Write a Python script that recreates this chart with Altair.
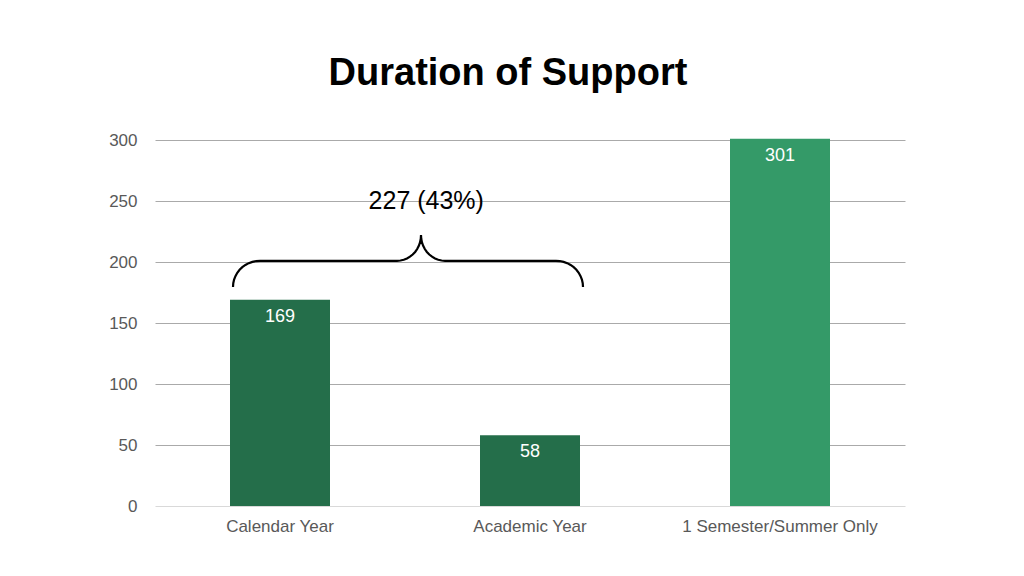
import altair as alt
import pandas as pd
import numpy as np

categories = ["Calendar Year", "Academic Year", "1 Semester/Summer Only"]
counts = [169, 58, 301]
bar_colors = ["#246E4A", "#246E4A", "#349A68"]

brace_label = "227 (43%)"
# brace geometry in data units (x: category-index space 0..3, y: count units)
brace_left, brace_right, brace_tip_x = 0.312, 1.712, 1.064
brace_base_y, brace_end_y, brace_tip_y = 201.0, 179.5, 222.0
label_x, label_y = 1.085, 250

df = pd.DataFrame({"cat": categories, "count": counts, "color": bar_colors})

# build brace path (quarter arcs) in data units
PX_X = 750 / 3.0
rc = 27 / PX_X
rcy = brace_base_y - brace_end_y
rt = 24 / PX_X
rty = brace_tip_y - brace_base_y
pts = []
t = np.linspace(np.pi, np.pi / 2, 12)
cx, cy = brace_left + rc, brace_end_y
pts += [(cx + rc * np.cos(a), cy + rcy * np.sin(a)) for a in t]
t = np.linspace(-np.pi / 2, 0, 12)
cx, cy = brace_tip_x - rt, brace_tip_y
pts += [(cx + rt * np.cos(a), cy + rty * np.sin(a)) for a in t]
t = np.linspace(np.pi, 3 * np.pi / 2, 12)
cx, cy = brace_tip_x + rt, brace_tip_y
pts += [(cx + rt * np.cos(a), cy + rty * np.sin(a)) for a in t]
t = np.linspace(np.pi / 2, 0, 12)
cx, cy = brace_right - rc, brace_end_y
pts += [(cx + rc * np.cos(a), cy + rcy * np.sin(a)) for a in t]
brace_df = pd.DataFrame({"bx": [p[0] for p in pts], "by": [p[1] for p in pts], "o": range(len(pts))})

yscale = alt.Scale(domain=[0, 300], nice=False)
xscale = alt.Scale(domain=categories, paddingInner=0.6, paddingOuter=0.3)

base = alt.Chart(df)
bars = base.mark_bar().encode(
    x=alt.X("cat:N", scale=xscale, sort=categories, title=None,
            axis=alt.Axis(labelAngle=0, labelFont="Liberation Sans", labelFontSize=17, labelLimit=400,
                          labelColor="#595959", labelPadding=12, ticks=False, domain=False, grid=False)),
    y=alt.Y("count:Q", scale=yscale, title=None,
            axis=alt.Axis(values=[0, 50, 100, 150, 200, 250, 300], labelFont="Liberation Sans",
                          labelFontSize=17, labelColor="#595959", labelPadding=18, ticks=False,
                          domain=False,
                          gridColor={"condition": {"test": "datum.value === 0", "value": "#D9D9D9"},
                                     "value": "#AAAAAA"},
                          gridWidth=1)),
    color=alt.Color("color:N", scale=None),
)
labels = base.mark_text(color="white", font="Liberation Sans", fontSize=18, baseline="middle", dy=17).encode(
    x=alt.X("cat:N", scale=xscale, sort=categories),
    y=alt.Y("count:Q", scale=yscale),
    text="count:Q",
)
bar_layer = alt.layer(bars, labels)

brace = alt.Chart(brace_df).mark_line(color="black", strokeWidth=2.2, interpolate="linear").encode(
    x=alt.X("bx:Q", scale=alt.Scale(domain=[0, 3], nice=False), axis=None),
    y=alt.Y("by:Q", scale=yscale),
    order="o:Q",
)
ann = alt.Chart(pd.DataFrame({"tx": [label_x], "ty": [label_y], "t": [brace_label]})).mark_text(
    font="Liberation Sans", fontSize=25, color="black", baseline="middle"
).encode(
    x=alt.X("tx:Q", scale=alt.Scale(domain=[0, 3], nice=False), axis=None),
    y=alt.Y("ty:Q", scale=yscale),
    text="t:N",
)
ann_layer = alt.layer(brace, ann)

chart = alt.layer(bar_layer, ann_layer).resolve_scale(x="independent").properties(
    width=750, height=366,
    background="white",
    title=alt.Title("Duration of Support", font="Liberation Sans", fontSize=38, fontWeight="bold",
                    color="black", offset=38, dx=-22),
    padding={"left": 147, "top": 132, "right": 111, "bottom": 62},
    autosize=alt.AutoSizeParams(type="none"),
).configure_view(strokeWidth=0, stroke="transparent")

chart.save("out.html", embed_options={"renderer": "svg", "actions": False})
